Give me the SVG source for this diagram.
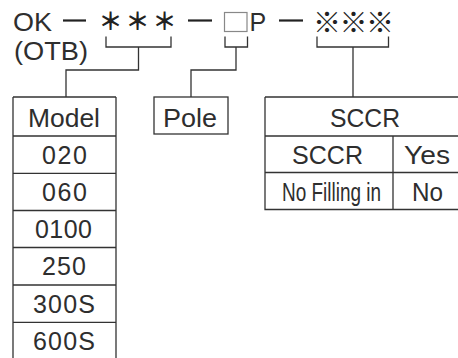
<svg xmlns="http://www.w3.org/2000/svg" width="458" height="358" viewBox="0 0 458 358">
<style>
.t{font-family:"Liberation Sans","Noto Sans",Arial,sans-serif;font-size:25px;fill:#2e2e2e;}
.c{text-anchor:middle;}
.sym{font-family:"Noto Sans CJK JP","DejaVu Sans",sans-serif;fill:#222;}
.ln{stroke:#333;stroke-width:1.3;fill:none;}
.dash{stroke:#222;stroke-width:2.2;}
</style>
<rect width="458" height="358" fill="#fff"/>
<g id="code">
<text class="t" x="13" y="31" font-size="26" textLength="39" lengthAdjust="spacingAndGlyphs">OK</text>
<line class="dash" x1="63" y1="20.5" x2="86" y2="20.5"/>
<text class="sym" x="98.5" y="30" font-size="24" font-weight="700" letter-spacing="3">＊＊＊</text>
<line class="dash" x1="188" y1="20.5" x2="212" y2="20.5"/>
<rect x="224.5" y="12.5" width="22.5" height="19" fill="none" stroke="#888" stroke-width="1.2"/>
<text class="t" x="249.5" y="31" font-size="26">P</text>
<line class="dash" x1="279" y1="20.5" x2="303" y2="20.5"/>
<text class="sym" x="313" y="33" font-size="28" font-weight="500" letter-spacing="-1.5">※※※</text>
<text class="t" x="14" y="60" font-size="26" textLength="74" lengthAdjust="spacingAndGlyphs">(OTB)</text>
</g>
<g id="connectors">
<path class="ln" d="M106,36.5V47H171V36.5M138.5,47V70H66V97"/>
<path class="ln" d="M225,36.5V47H247.5V36.5M236,47V70H191V97"/>
<path class="ln" d="M317,36.5V47H388.5V36.5M353,47V97"/>
</g>
<g id="model-table">
<path class="ln" d="M13,97H116M13,97V360M116,97V360M13,136H116M13,173.3H116M13,210.5H116M13,247.5H116M13,285H116M13,322.3H116"/>
<text class="t c" x="64" y="126.5" textLength="72" lengthAdjust="spacingAndGlyphs">Model</text>
<text class="t c" x="64.5" y="163.5" textLength="45" lengthAdjust="spacing">020</text>
<text class="t c" x="64.5" y="200.5" textLength="45" lengthAdjust="spacing">060</text>
<text class="t c" x="63.5" y="237.5" textLength="57" lengthAdjust="spacing">0100</text>
<text class="t c" x="64" y="275" textLength="44" lengthAdjust="spacing">250</text>
<text class="t c" x="64" y="312.5" textLength="62" lengthAdjust="spacing">300S</text>
<text class="t c" x="64" y="350" textLength="62" lengthAdjust="spacing">600S</text>
</g>
<g id="pole-box">
<rect class="ln" x="154" y="97" width="74" height="37"/>
<text class="t c" x="190" y="126.5" textLength="54" lengthAdjust="spacingAndGlyphs">Pole</text>
</g>
<g id="sccr-table">
<path class="ln" d="M265,97H470M265,97V209.5H470M265,136H470M265,172.5H470M393,136V209.5"/>
<text class="t c" x="365" y="127" textLength="70" lengthAdjust="spacingAndGlyphs">SCCR</text>
<text class="t c" x="327.5" y="163.5" textLength="71" lengthAdjust="spacingAndGlyphs">SCCR</text>
<text class="t c" x="427" y="163.5" textLength="46" lengthAdjust="spacingAndGlyphs">Yes</text>
<text class="t c" x="331.5" y="201" textLength="99" lengthAdjust="spacingAndGlyphs">No Filling in</text>
<text class="t c" x="427.5" y="201" textLength="31" lengthAdjust="spacingAndGlyphs">No</text>
</g>
</svg>
